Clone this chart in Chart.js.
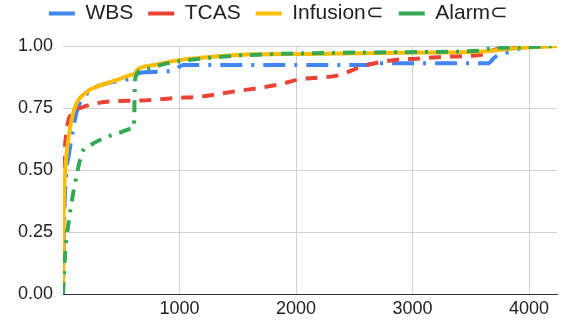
<!DOCTYPE html>
<html>
<head>
<meta charset="utf-8">
<script src="https://cdn.jsdelivr.net/npm/chart.js@4/dist/chart.umd.min.js"></script>
<style>
  body { margin: 0; background: #fff; }
  #wrap { width: 561px; height: 327px; }
</style>
</head>
<body>
<div id="wrap"><canvas id="cdfChart" width="561" height="327"></canvas></div>
<script>
// Series names
const seriesNames = ['WBS', 'TCAS', 'Infusion\u2282', 'Alarm\u2282'];

// WBS
const wbsX = [0, 10, 30, 50, 70, 122, 236, 379, 578, 664, 807, 950, 1035, 1435, 2600, 2664, 3650, 3707, 3862, 4000, 4240];
const wbsY = [0, 0.3, 0.5, 0.56, 0.62, 0.742, 0.82, 0.85, 0.87, 0.892, 0.896, 0.903, 0.923, 0.923, 0.923, 0.93, 0.93, 0.955, 0.98, 1.0, 1.0];

// TCAS
const tcasX = [0, 5, 10, 36, 79, 150, 379, 664, 950, 1178, 1461, 1835, 2035, 2378, 2521, 2607, 2892, 3003, 3292, 3578, 3721, 3862, 4240];
const tcasY = [0, 0.46, 0.54, 0.675, 0.73, 0.75, 0.775, 0.78, 0.79, 0.796, 0.816, 0.843, 0.866, 0.883, 0.91, 0.923, 0.946, 0.948, 0.957, 0.964, 0.987, 0.995, 1.0];

// Infusion
const infX = [0, 5, 20, 45, 90, 207, 293, 464, 578, 621, 636, 776, 1007, 1235, 1521, 2035, 2892, 3578, 3862, 4006, 4240];
const infY = [0, 0.3, 0.5, 0.62, 0.735, 0.816, 0.836, 0.863, 0.883, 0.89, 0.903, 0.923, 0.944, 0.955, 0.964, 0.968, 0.973, 0.977, 0.99, 0.995, 1.0];

// Alarm
const alarmX = [0, 21, 36, 64, 122, 164, 236, 379, 507, 600, 607, 620, 664, 893, 1093, 1264, 1607, 2035, 2892, 3578, 3664, 3920, 4240];
const alarmY = [0, 0.18, 0.245, 0.34, 0.49, 0.57, 0.6, 0.634, 0.654, 0.668, 0.67, 0.87, 0.9, 0.93, 0.944, 0.953, 0.964, 0.97, 0.975, 0.981, 0.99, 0.995, 1.0];

// Axis ticks
const yTicks = [0, 0.25, 0.5, 0.75, 1.0];
const xTicks = [0, 1000, 2000, 3000, 4000];

function toPoints(xs, ys) {
    return xs.map((x, i) => ({ x: x, y: ys[i] }));
}

const FONT = "'Liberation Sans', Arial, sans-serif";

// give the legend some extra room underneath
const legendGap = {
    id: 'legendGap',
    beforeInit(chart) {
        const fit = chart.legend.fit;
        chart.legend.fit = function () {
            fit.call(this);
            this.height += 12;
        };
    }
};

const ctx = document.getElementById('cdfChart').getContext('2d');
const cdfChart = new Chart(ctx, {
    type: 'line',
    plugins: [legendGap],
    data: {
        datasets: [{
            label: seriesNames[0],
            data: toPoints(wbsX, wbsY),
            borderColor: '#4285f4',
            borderWidth: 4,
            borderDash: [22, 9, 3, 9],
            order: 3
        }, {
            label: seriesNames[1],
            data: toPoints(tcasX, tcasY),
            borderColor: '#ea4335',
            borderWidth: 4,
            borderDash: [12, 9],
            order: 2
        }, {
            label: seriesNames[2],
            data: toPoints(infX, infY),
            borderColor: '#fbbc04',
            borderWidth: 4,
            order: 1
        }, {
            label: seriesNames[3],
            data: toPoints(alarmX, alarmY),
            borderColor: '#34a853',
            borderWidth: 4,
            borderDash: [12, 8, 3, 8],
            order: 0
        }]
    },
    options: {
        responsive: false,
        animation: false,
        layout: { padding: { left: 0, right: 4, top: -12, bottom: 0 } },
        elements: {
            point: { radius: 0 },
            line: { cubicInterpolationMode: 'monotone', fill: false, borderCapStyle: 'butt' }
        },
        plugins: {
            tooltip: { enabled: false },
            legend: {
                position: 'top',
                labels: {
                    usePointStyle: true,
                    pointStyle: 'line',
                    pointStyleWidth: 26,
                    color: '#222',
                    padding: 15,
                    font: { family: FONT, size: 21 },
                    sort: (a, b) => a.datasetIndex - b.datasetIndex
                }
            }
        },
        scales: {
            x: {
                type: 'linear',
                min: 0,
                max: 4240,
                afterBuildTicks: (scale) => {
                    scale.ticks = xTicks.map(v => ({ value: v }));
                },
                afterFit: (scale) => { scale.height = 33; },
                border: { display: true, color: '#333', width: 1 },
                grid: {
                    color: (c) => c.tick && c.tick.value === 0 ? 'rgba(0,0,0,0)' : '#d0d0d0',
                    drawTicks: false
                },
                ticks: {
                    color: '#222',
                    padding: 4,
                    maxRotation: 0,
                    font: { family: FONT, size: 18 },
                    callback: (v) => v === 0 ? '' : String(v)
                }
            },
            y: {
                min: 0,
                max: 1,
                afterBuildTicks: (scale) => {
                    scale.ticks = yTicks.map(v => ({ value: v }));
                },
                afterFit: (scale) => { scale.width = 63; },
                border: { display: false },
                grid: { color: '#d0d0d0', drawTicks: false },
                ticks: {
                    color: '#222',
                    padding: 10,
                    font: { family: FONT, size: 18 },
                    callback: (v) => Number(v).toFixed(2)
                }
            }
        }
    }
});
</script>
</body>
</html>
